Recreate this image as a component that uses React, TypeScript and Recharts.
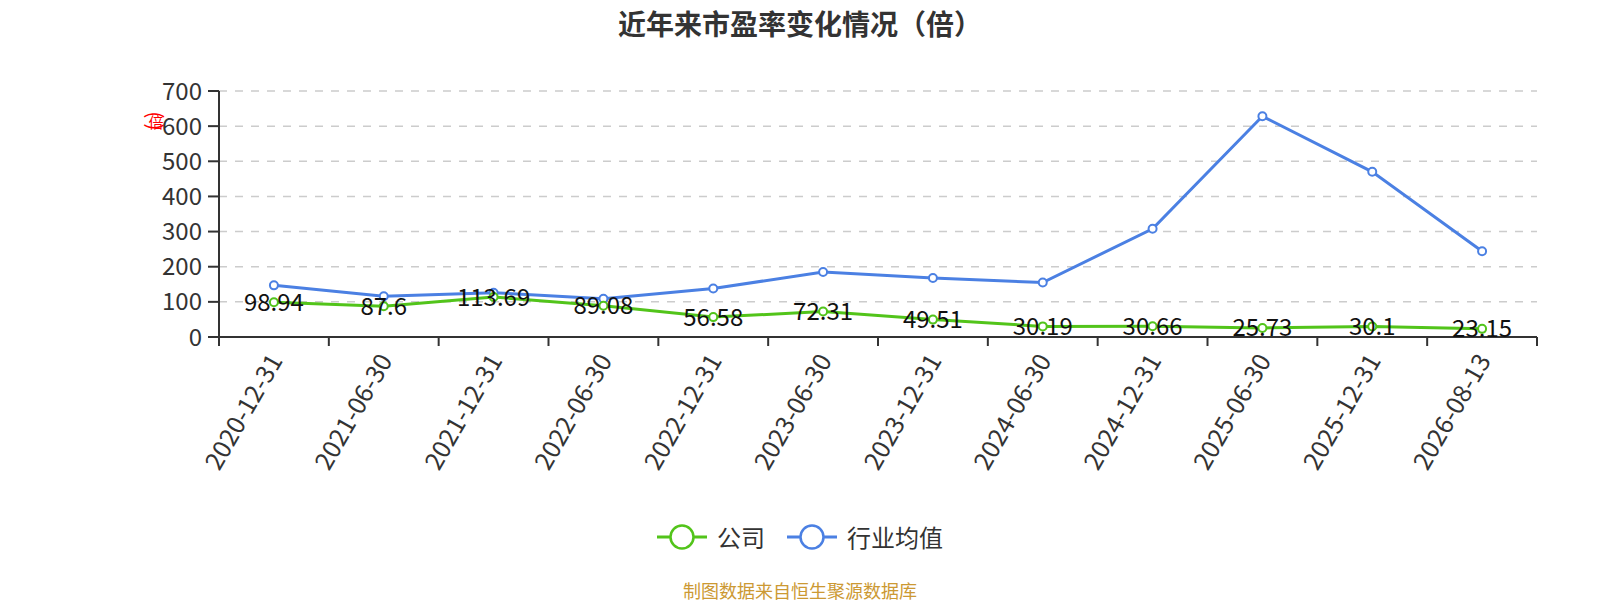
import React from 'react';
import { LineChart, Line, XAxis, YAxis, CartesianGrid, LabelList } from 'recharts';

const dates = [
  '2020-12-31', '2021-06-30', '2021-12-31', '2022-06-30', '2022-12-31', '2023-06-30',
  '2023-12-31', '2024-06-30', '2024-12-31', '2025-06-30', '2025-12-31', '2026-08-13',
];
const company = [98.94, 87.6, 113.69, 89.08, 56.58, 72.31, 49.51, 30.19, 30.66, 25.73, 30.1, 23.15];
const industry = [147, 116, 126, 109, 138, 185, 168, 155, 308, 628, 470, 244];
const yTicks = [0, 100, 200, 300, 400, 500, 600, 700];

const GREEN = '#52C41A';
const BLUE = '#4B80E3';
const FONT = '"Noto Sans CJK SC", "Noto Sans", sans-serif';

const data = dates.map((d, i) => ({ date: d, company: company[i], industry: industry[i] }));

function DateTick(props: any) {
  const { x, y, payload, index, visibleTicksCount } = props;
  const off = payload.offset || 0;
  const last = index === (visibleTicksCount ?? dates.length) - 1;
  const ax = x;
  const ay = y + 18;
  return (
    <g>
      <line x1={x - off} y1={y} x2={x - off} y2={y + 9} stroke="#333" strokeWidth={2} />
      {last && <line x1={x + off} y1={y} x2={x + off} y2={y + 9} stroke="#333" strokeWidth={2} />}
      <text
        x={ax}
        y={ay}
        textAnchor="end"
        dominantBaseline="central"
        transform={`rotate(-60, ${ax}, ${ay})`}
        fontSize={25}
        fill="#333"
        fontFamily={FONT}
      >
        {payload.value}
      </text>
    </g>
  );
}

function ValueLabel(props: any) {
  const { x, y, value } = props;
  return (
    <text x={x} y={y - 2} textAnchor="middle" dominantBaseline="central" fontSize={24} fill="#111" fontFamily={FONT}>
      {String(value)}
    </text>
  );
}

function UnitLabel() {
  const cx = 156;
  return (
    <g fill="#f00" fontFamily={FONT} textAnchor="middle">
      <text x={cx} y={115} fontSize={20} dominantBaseline="central" transform={`rotate(90, ${cx}, 115)`}>(</text>
      <text x={cx} y={121} fontSize={15} dominantBaseline="central">倍</text>
      <text x={cx} y={127} fontSize={20} dominantBaseline="central" transform={`rotate(90, ${cx}, 127)`}>)</text>
    </g>
  );
}

function LegendIcon({ color }: { color: string }) {
  return (
    <svg width={50} height={28} style={{ verticalAlign: 'middle' }}>
      <line x1={0} y1={14} x2={50} y2={14} stroke={color} strokeWidth={3} />
      <circle cx={25} cy={14} r={11.5} fill="#fff" stroke={color} strokeWidth={2.5} />
    </svg>
  );
}

export default function App() {
  return (
    <div style={{ position: 'relative', width: 1600, height: 600, fontFamily: FONT, background: '#fff' }}>
      <style>{'body{margin:0}'}</style>
      <div
        style={{
          position: 'absolute', top: 8, left: 0, width: 1600, textAlign: 'center',
          fontSize: 28, lineHeight: '30px', fontWeight: 700, color: '#333',
        }}
      >
        近年来市盈率变化情况（倍）
      </div>
      <LineChart width={1600} height={600} data={data} margin={{ top: 91, right: 63, left: 0, bottom: 0 }}>
        <CartesianGrid vertical={false} stroke="#ccc" strokeDasharray="8 8" strokeWidth={1.5} />
        <XAxis
          dataKey="date"
          scale="band"
          height={263}
          axisLine={{ stroke: '#333', strokeWidth: 2 }}
          tickLine={false}
          tickSize={0}
          tickMargin={0}
          interval={0}
          tick={<DateTick />}
        />
        <YAxis
          width={219}
          domain={[0, 700]}
          ticks={yTicks}
          interval={0}
          axisLine={{ stroke: '#333', strokeWidth: 2 }}
          tickLine={{ stroke: '#333', strokeWidth: 2 }}
          tickSize={11}
          tickMargin={6}
          tick={{ fontSize: 24, fill: '#333', fontFamily: FONT }}
          label={{ content: () => <UnitLabel /> }}
        />
        <Line
          dataKey="industry"
          stroke={BLUE}
          strokeWidth={3}
          dot={{ r: 4, fill: '#fff', stroke: BLUE, strokeWidth: 2 }}
          activeDot={false}
          isAnimationActive={false}
        />
        <Line
          dataKey="company"
          stroke={GREEN}
          strokeWidth={3}
          dot={{ r: 4, fill: '#fff', stroke: GREEN, strokeWidth: 2 }}
          activeDot={false}
          isAnimationActive={false}
        >
          <LabelList dataKey="company" content={<ValueLabel />} />
        </Line>
      </LineChart>
      <div
        style={{
          position: 'absolute', top: 523, left: 0, width: 1600, display: 'flex', justifyContent: 'center',
          alignItems: 'center', fontSize: 24, color: '#333', lineHeight: '28px',
        }}
      >
        <LegendIcon color={GREEN} />
        <span style={{ marginLeft: 10, marginRight: 22 }}>公司</span>
        <LegendIcon color={BLUE} />
        <span style={{ marginLeft: 10 }}>行业均值</span>
      </div>
      <div
        style={{
          position: 'absolute', top: 579, left: 0, width: 1600, textAlign: 'center',
          fontSize: 18, lineHeight: '22px', color: '#CC9933',
        }}
      >
        制图数据来自恒生聚源数据库
      </div>
    </div>
  );
}
